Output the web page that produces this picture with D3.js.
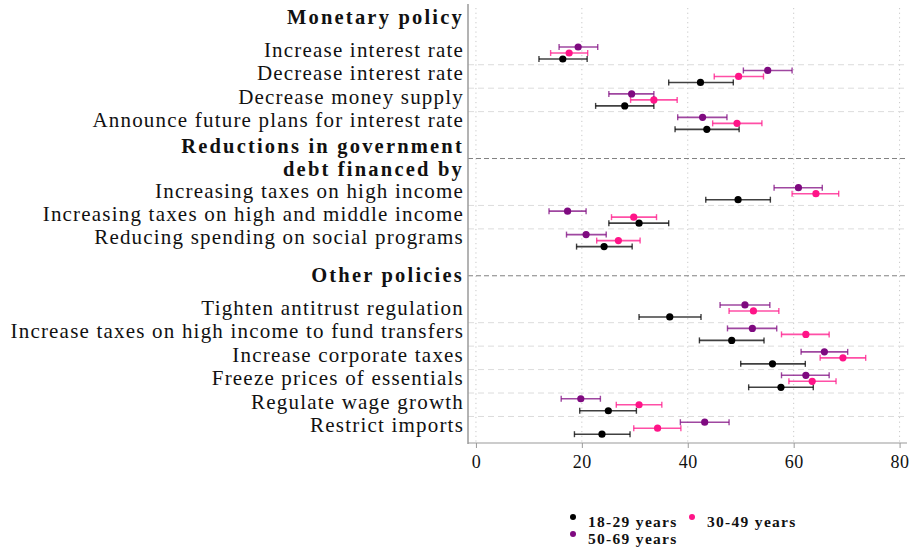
<!DOCTYPE html>
<html>
<head>
<meta charset="utf-8">
<script src="https://d3js.org/d3.v7.min.js"></script>
<style>
  html, body { margin: 0; padding: 0; background: #fff; }
  svg { display: block; }
  text { font-family: "Liberation Serif", "DejaVu Serif", serif; fill: #111; }
</style>
</head>
<body>
<svg id="chart" width="910" height="547"></svg>
<script>
// Policy items, grouped under bold headings
const groupTitles = [
  ["Monetary policy"],
  ["Reductions in government", "debt financed by"],
  ["Other policies"]
];
const categories = [
  "Increase interest rate",
  "Decrease interest rate",
  "Decrease money supply",
  "Announce future plans for interest rate",
  "Increasing taxes on high income",
  "Increasing taxes on high and middle income",
  "Reducing spending on social programs",
  "Tighten antitrust regulation",
  "Increase taxes on high income to fund transfers",
  "Increase corporate taxes",
  "Freeze prices of essentials",
  "Regulate wage growth",
  "Restrict imports"
];
const groupSizes = [4, 3, 6];

const seriesNames = ["18-29 years", "30-49 years", "50-69 years"];
const seriesColors = ["#000000", "#ff1488", "#7f0a80"];

// Point estimates and 95% confidence bounds (percent)
const est18_29 = [16.4, 42.4, 28.1, 43.6, 49.5, 30.8, 24.2, 36.6, 48.3, 56.0, 57.6, 25.0, 23.8];
const lo18_29  = [11.9, 36.4, 22.6, 37.6, 43.4, 25.1, 19.0, 30.8, 42.2, 50.0, 51.5, 19.6, 18.6];
const hi18_29  = [21.0, 48.6, 33.6, 49.7, 55.6, 36.4, 29.5, 42.5, 54.4, 62.2, 63.7, 30.3, 29.1];

const est30_49 = [17.6, 49.6, 33.6, 49.3, 64.2, 29.8, 26.9, 52.4, 62.3, 69.3, 63.5, 30.8, 34.3];
const lo30_49  = [14.1, 45.0, 29.2, 44.7, 59.7, 25.6, 22.8, 47.8, 57.7, 65.0, 59.1, 26.5, 29.8];
const hi30_49  = [21.1, 54.3, 38.0, 54.0, 68.5, 34.1, 31.0, 57.2, 66.7, 73.6, 68.0, 35.1, 38.7];

const est50_69 = [19.3, 55.1, 29.4, 42.8, 60.9, 17.3, 20.8, 50.8, 52.2, 65.8, 62.3, 19.8, 43.2];
const lo50_69  = [15.7, 50.5, 25.1, 38.1, 56.3, 13.8, 17.1, 46.1, 47.5, 61.4, 57.7, 16.1, 38.6];
const hi50_69  = [23.0, 59.7, 33.6, 47.4, 65.4, 20.8, 24.6, 55.5, 56.8, 70.2, 66.7, 23.5, 47.8];

const xTicks = [0, 20, 40, 60, 80];

const seriesData = [
  { est: est18_29, lo: lo18_29, hi: hi18_29 },
  { est: est30_49, lo: lo30_49, hi: hi30_49 },
  { est: est50_69, lo: lo50_69, hi: hi50_69 }
];
// vertical offset of each age group within a row (px)
const seriesOffset = [6, 0, -6];

// Lay out slots: each group header sits 1.5 slots above its first row,
// and consecutive groups are separated by 3 slots.
const rows = [];
const headers = [];
let slot = 0, idx = 0;
groupSizes.forEach((n, g) => {
  headers.push({ lines: groupTitles[g], slot: slot - 1.5, g });
  for (let i = 0; i < n; i++) {
    rows.push({ label: categories[idx], i: idx, slot: slot + i, first: i === 0 });
    idx++;
  }
  slot += n - 1 + 3;
});

const svg = d3.select("#chart");
const plot = { left: 468, right: 907, top: 8, bottom: 443 };

const x = d3.scaleLinear().domain([-1.5, 81.4]).range([plot.left, plot.right]);
const y = d3.scaleLinear().domain([0, 16]).range([53, 428.2]);

// vertical dotted grid
svg.append("g").selectAll("line").data(xTicks).join("line")
  .attr("x1", d => x(d)).attr("x2", d => x(d))
  .attr("y1", plot.top).attr("y2", plot.bottom)
  .attr("stroke", "#c8c8c8").attr("stroke-width", 1)
  .attr("stroke-dasharray", "1.2,3.5");

// light separators between rows of a group
svg.append("g").selectAll("line").data(rows.filter(r => !r.first)).join("line")
  .attr("x1", plot.left).attr("x2", plot.right)
  .attr("y1", d => y(d.slot - 0.5)).attr("y2", d => y(d.slot - 0.5))
  .attr("stroke", "#dcdcdc").attr("stroke-width", 1)
  .attr("stroke-dasharray", "6,4");

// dark separators at group headings
svg.append("g").selectAll("line").data(headers.filter(h => h.g > 0)).join("line")
  .attr("x1", plot.left).attr("x2", plot.right)
  .attr("y1", d => y(d.slot)).attr("y2", d => y(d.slot))
  .attr("stroke", "#808080").attr("stroke-width", 1)
  .attr("stroke-dasharray", "5,3");

// axes lines
svg.append("line")
  .attr("x1", plot.left).attr("x2", plot.left)
  .attr("y1", 4).attr("y2", plot.bottom + 1)
  .attr("stroke", "#9a9a9a").attr("stroke-width", 1.5);

const xAxis = d3.axisBottom(x).tickValues(xTicks).tickSize(5).tickPadding(7).tickSizeOuter(0);
const gx = svg.append("g").attr("transform", `translate(0,${plot.bottom})`).call(xAxis);
gx.select(".domain").attr("stroke", "#9a9a9a").attr("stroke-width", 1.2)
  .attr("d", `M${plot.left},0H${plot.right}`);
gx.selectAll(".tick line").attr("stroke", "#9a9a9a");
gx.selectAll(".tick text")
  .style("font-family", '"Liberation Serif", serif')
  .style("font-size", "18px").style("letter-spacing", "0.5px").attr("fill", "#111");

// row labels
svg.append("g").selectAll("text").data(rows).join("text")
  .attr("x", 464).attr("y", d => y(d.slot) - 1)
  .attr("text-anchor", "end").attr("dominant-baseline", "middle")
  .style("font-size", "21px").style("letter-spacing", "1.2px")
  .text(d => d.label);

// group headings
const hg = svg.append("g").selectAll("text").data(headers).join("text")
  .attr("x", 464)
  .attr("text-anchor", "end")
  .style("font-size", "20.5px").style("font-weight", "bold").style("letter-spacing", "2.2px");
hg.each(function(d) {
  const t = d3.select(this);
  const n = d.lines.length;
  d.lines.forEach((ln, k) => {
    t.append("tspan").attr("x", 464)
      .attr("y", y(d.slot) + (k - (n - 1) / 2) * 23 + 6)
      .text(ln);
  });
});

// confidence intervals and estimates for each age group
seriesData.forEach((s, si) => {
  const g = svg.append("g");
  const color = seriesColors[si];
  const off = seriesOffset[si];
  const data = rows.map(r => ({ slot: r.slot, est: s.est[r.i], lo: s.lo[r.i], hi: s.hi[r.i] }));
  const cy = d => y(d.slot) + off;
  g.selectAll("line.ci").data(data).join("line").attr("class", "ci")
    .attr("x1", d => x(d.lo)).attr("x2", d => x(d.hi))
    .attr("y1", cy).attr("y2", cy)
    .attr("stroke", color).attr("stroke-opacity", 0.75).attr("stroke-width", 1.6);
  g.selectAll("line.capl").data(data).join("line").attr("class", "capl")
    .attr("x1", d => x(d.lo)).attr("x2", d => x(d.lo))
    .attr("y1", d => cy(d) - 3).attr("y2", d => cy(d) + 3)
    .attr("stroke", color).attr("stroke-opacity", 0.75).attr("stroke-width", 1.4);
  g.selectAll("line.caph").data(data).join("line").attr("class", "caph")
    .attr("x1", d => x(d.hi)).attr("x2", d => x(d.hi))
    .attr("y1", d => cy(d) - 3).attr("y2", d => cy(d) + 3)
    .attr("stroke", color).attr("stroke-opacity", 0.75).attr("stroke-width", 1.4);
  g.selectAll("circle").data(data).join("circle")
    .attr("cx", d => x(d.est)).attr("cy", cy).attr("r", 3.6)
    .attr("fill", color);
});

// legend
const legendPos = [[573, 527], [692, 527], [573, 544]];
const lg = svg.append("g").selectAll("g").data(seriesNames).join("g")
  .attr("transform", (d, i) => `translate(${legendPos[i][0]},${legendPos[i][1]})`);
lg.append("circle").attr("cx", 0).attr("cy", -10).attr("r", 3)
  .attr("fill", (d, i) => seriesColors[i]);
lg.append("text").attr("x", 15).attr("y", 0)
  .style("font-size", "15.5px").style("font-weight", "bold").style("letter-spacing", "1.3px")
  .text(d => d);
</script>
</body>
</html>
